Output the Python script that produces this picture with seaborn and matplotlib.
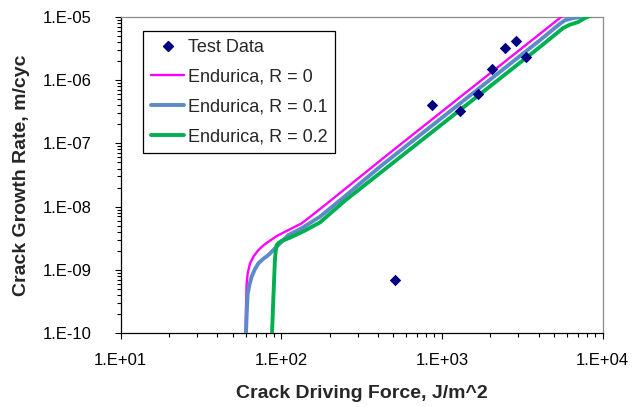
import numpy as np
import pandas as pd
import matplotlib
matplotlib.use("Agg")
import matplotlib.pyplot as plt
import seaborn as sns
from matplotlib.ticker import LogLocator, FuncFormatter, NullFormatter
from matplotlib.lines import Line2D

# ---- data ----
test_force = [513, 867, 1303, 1671, 2042, 2483, 2904, 3319]
test_rate = [6.9e-10, 4.1e-7, 3.2e-7, 6.1e-7, 1.5e-6, 3.2e-6, 4.2e-6, 2.3e-6]

r0_force = [60.0, 60.4, 61.0, 61.9, 64.0, 67.6, 72.1, 77.6, 83.2, 93.8, 105.7,
            134.3, 187.5, 499, 5560, 7080]
r0_rate = [1e-10, 2.5e-10, 6.1e-10, 8.9e-10, 1.27e-9, 1.66e-9, 2.06e-9, 2.45e-9,
           2.79e-9, 3.43e-9, 4.01e-9, 5.45e-9, 1.06e-8, 7.83e-8, 1.0e-5, 1.62e-5]

r01_force = [60.4, 61.0, 61.9, 63.7, 65.5, 68.5, 72.1, 77.6, 83.2, 95.9, 110.7,
             134.3, 174.2, 251, 412, 4074, 5433, 5834, 6577, 7586, 8913]
r01_rate = [1e-10, 2.0e-10, 4.27e-10, 6.03e-10, 7.82e-10, 1.02e-9, 1.27e-9, 1.51e-9,
            1.72e-9, 2.47e-9, 3.55e-9, 4.57e-9, 6.92e-9, 1.48e-8, 4.27e-8, 4.24e-6,
            7.74e-6, 8.77e-6, 9.53e-6, 1.0e-5, 1.07e-5]

r02_force = [87.7, 88.5, 89.3, 90.4, 91.4, 92.5, 93.8, 96.6, 100.7, 113.5, 137.4,
             174.2, 251, 412, 4074, 5689, 6266, 7063, 7780, 8147, 9120]
r02_rate = [1e-10, 1.78e-10, 3.34e-10, 7.08e-10, 1.43e-9, 2.0e-9, 2.47e-9, 2.69e-9,
            2.88e-9, 3.24e-9, 4.07e-9, 5.62e-9, 1.26e-8, 3.39e-8, 3.32e-6, 6.62e-6,
            7.48e-6, 8.24e-6, 9.53e-6, 1.0e-5, 1.12e-5]

labels = ["Test Data", "Endurica, R = 0", "Endurica, R = 0.1", "Endurica, R = 0.2"]
colors = ["#000080", "#FF00FF", "#5B8CC8", "#00B050"]

x_ticks = [1e1, 1e2, 1e3, 1e4]
y_ticks = [1e-10, 1e-9, 1e-8, 1e-7, 1e-6, 1e-5]

# ---- style ----
sns.set_style("ticks")
plt.rcParams['font.family'] = ['Liberation Sans', 'DejaVu Sans']

W, H = 634, 407
fig = plt.figure(figsize=(W / 100, H / 100), dpi=100)
left, right, top, bottom = 120.5, 602.5, 16.7, 333.3
ax = fig.add_axes([left / W, 1 - bottom / H, (right - left) / W, (bottom - top) / H])
ax.set_xscale("log")
ax.set_yscale("log")

sns.lineplot(x=r0_force, y=r0_rate, sort=False, estimator=None, color=colors[1],
             linewidth=1.7, ax=ax, zorder=3)
sns.lineplot(x=r01_force, y=r01_rate, sort=False, estimator=None, color=colors[2],
             linewidth=2.8, ax=ax, zorder=4)
sns.lineplot(x=r02_force, y=r02_rate, sort=False, estimator=None, color=colors[3],
             linewidth=2.8, ax=ax, zorder=5)
sns.scatterplot(x=test_force, y=test_rate, marker="D", s=34, color=colors[0],
                edgecolor=colors[0], linewidth=0, ax=ax, zorder=6)

fmt = FuncFormatter(lambda v, p: "1.E{:+03d}".format(int(round(np.log10(v)))))
ax.xaxis.set_minor_locator(LogLocator(base=10, subs=np.arange(2, 10), numticks=20))
ax.yaxis.set_minor_locator(LogLocator(base=10, subs=np.arange(2, 10), numticks=20))
ax.set_xticks(x_ticks)
ax.set_yticks(y_ticks)
ax.xaxis.set_major_formatter(fmt)
ax.yaxis.set_major_formatter(fmt)
ax.xaxis.set_minor_formatter(NullFormatter())
ax.yaxis.set_minor_formatter(NullFormatter())
ax.set_xlim(1e1, 1e4)
ax.set_ylim(1e-10, 1e-5)

ax.tick_params(axis="both", which="major", direction="out", length=4.5, width=0.8,
               color="black", labelsize=12, labelcolor="black")
ax.tick_params(axis="both", which="minor", direction="out", length=3, width=0.8,
               color="black")
ax.tick_params(axis="y", which="major", pad=16)
ax.tick_params(axis="x", which="major", pad=10)

for s in ["left", "bottom"]:
    ax.spines[s].set_color("black")
    ax.spines[s].set_linewidth(0.9)
for s in ["top", "right"]:
    ax.spines[s].set_visible(True)
    ax.spines[s].set_color("#8C8C8C")
    ax.spines[s].set_linewidth(0.9)

ax.set_xlabel("Crack Driving Force, J/m^2", fontsize=14, fontweight="bold")
ax.set_ylabel("Crack Growth Rate, m/cyc", fontsize=14, fontweight="bold")
ax.xaxis.set_label_coords(0.5, (bottom - 393) / (bottom - top))
ax.xaxis.label.set_va("center")
ax.yaxis.set_label_coords((21 - left) / (right - left), 0.5)
ax.yaxis.label.set_va("center")

handles = [
    Line2D([], [], linestyle="none", marker="D", markersize=5, color=colors[0]),
    Line2D([], [], color=colors[1], linewidth=1.7),
    Line2D([], [], color=colors[2], linewidth=2.8),
    Line2D([], [], color=colors[3], linewidth=2.8),
]
leg = ax.legend(handles, labels, loc="upper left",
                bbox_to_anchor=((143.3 - left) / (right - left), (bottom - 31) / (bottom - top)),
                borderaxespad=0, fontsize=13, frameon=True, fancybox=False,
                framealpha=1, edgecolor="black", handlelength=1.8,
                handletextpad=0.2, labelspacing=0.7, borderpad=0.45, numpoints=1)
leg.get_frame().set_linewidth(0.9)

fig.savefig("out.png", dpi=100, facecolor="white")
